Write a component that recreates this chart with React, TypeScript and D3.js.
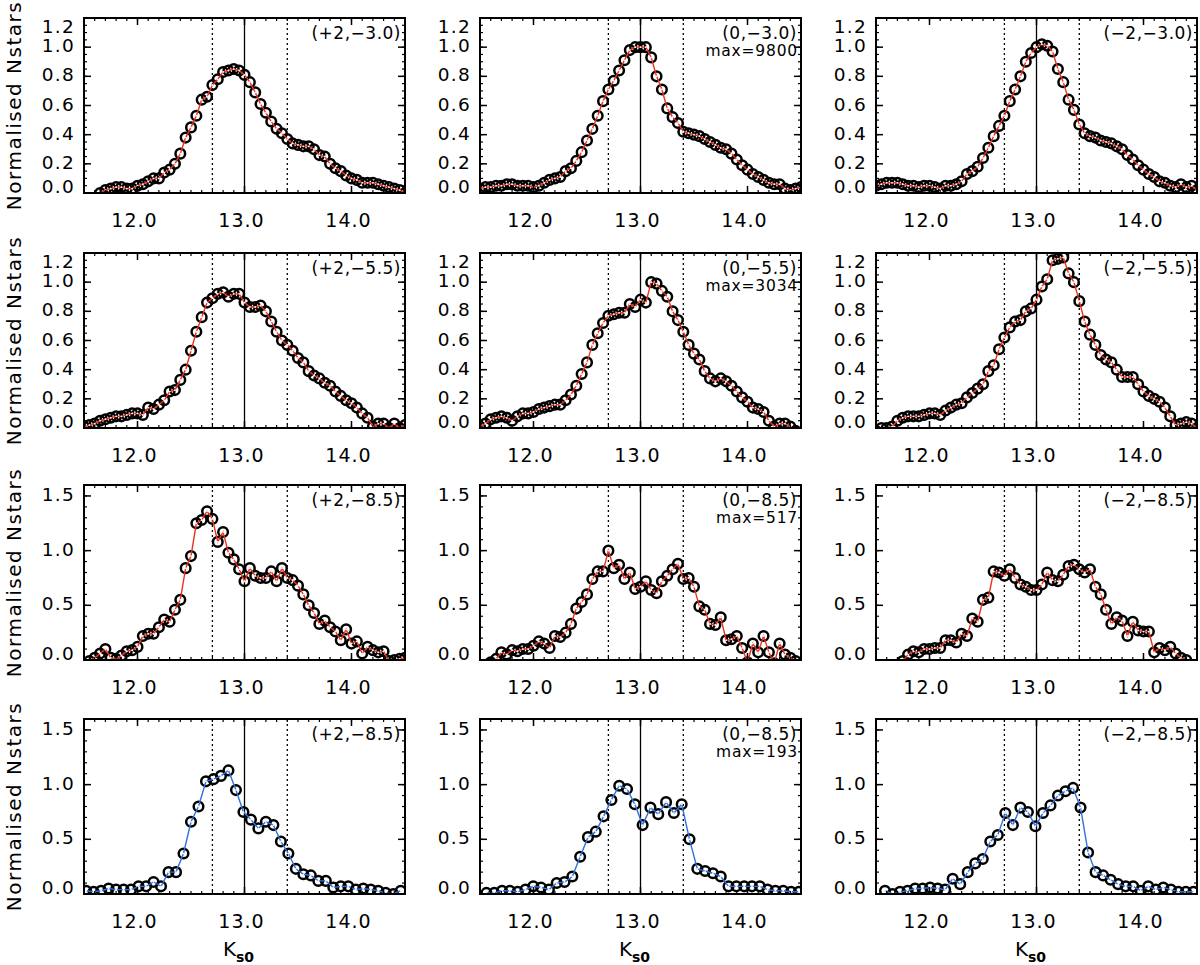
import React from "react";
import * as d3 from "d3";

// ---- data: normalised star counts per Ks0 bin ----
const fieldLabels = [
  "(+2,−3.0)", "(0,−3.0)", "(−2,−3.0)",
  "(+2,−5.5)", "(0,−5.5)", "(−2,−5.5)",
  "(+2,−8.5)", "(0,−8.5)", "(−2,−8.5)",
  "(+2,−8.5)", "(0,−8.5)", "(−2,−8.5)",
];
const maxLabels = ["", "max=9800", "", "", "max=3034", "", "", "max=517", "", "", "max=193", ""];

// first bin centre and bin width of each panel
const binStart = [11.65, 11.5, 11.5, 11.5, 11.5, 11.5, 11.55, 11.6, 11.75, 11.52, 11.56, 11.584];
const binStep = [0.05, 0.05, 0.05, 0.05, 0.05, 0.05, 0.05, 0.05, 0.05, 0.07, 0.073, 0.0703];

const p2m30 = [
  0.00, 0.02, 0.03, 0.04, 0.04, 0.03, 0.03,
  0.05, 0.06, 0.08, 0.10, 0.10, 0.14, 0.16, 0.20, 0.27, 0.38,
  0.45, 0.53, 0.64, 0.66, 0.74, 0.78, 0.83, 0.84, 0.85, 0.84,
  0.81, 0.76, 0.69, 0.61, 0.55, 0.49, 0.44, 0.41, 0.37, 0.34,
  0.33, 0.32, 0.32, 0.30, 0.26, 0.25, 0.20, 0.17, 0.15, 0.12,
  0.10, 0.09, 0.07, 0.07, 0.07, 0.06, 0.05, 0.04, 0.03, 0.02,
  0.00,
];
const p0m30 = [
  0.03, 0.04, 0.04, 0.05, 0.05, 0.06, 0.06, 0.05, 0.05, 0.05,
  0.04, 0.05, 0.07, 0.09, 0.10, 0.11, 0.15, 0.17, 0.22, 0.28,
  0.36, 0.44, 0.53, 0.63, 0.71, 0.77, 0.84, 0.91, 0.98, 1.00,
  1.00, 1.00, 0.93, 0.80, 0.71, 0.58, 0.52, 0.48, 0.42, 0.41,
  0.40, 0.39, 0.37, 0.35, 0.33, 0.31, 0.30, 0.27, 0.23, 0.19,
  0.16, 0.13, 0.11, 0.09, 0.07, 0.06, 0.06, 0.03, 0.02, 0.03,
  0.04,
];
const pm2m30 = [
  0.05, 0.06, 0.07, 0.07, 0.07, 0.06, 0.05, 0.05, 0.04, 0.05,
  0.05, 0.04, 0.03, 0.05, 0.05, 0.06, 0.08, 0.13, 0.15, 0.18,
  0.24, 0.31, 0.39, 0.46, 0.53, 0.63, 0.71, 0.80, 0.90, 0.96,
  1.00, 1.02, 1.01, 0.97, 0.85, 0.76, 0.64, 0.57, 0.47, 0.41,
  0.39, 0.38, 0.36, 0.35, 0.34, 0.32, 0.30, 0.26, 0.23, 0.19,
  0.16, 0.13, 0.11, 0.08, 0.07, 0.05, 0.04, 0.06, 0.04, 0.05,
  0.02,
];
const p2m55 = [
  0.01, 0.02, 0.03, 0.05, 0.06, 0.07, 0.08, 0.08, 0.09, 0.10,
  0.10, 0.09, 0.14, 0.13, 0.16, 0.19, 0.25, 0.26, 0.33, 0.40,
  0.53, 0.66, 0.76, 0.86, 0.89, 0.92, 0.93, 0.90, 0.92, 0.92,
  0.86, 0.83, 0.83, 0.84, 0.80, 0.73, 0.66, 0.60, 0.57, 0.53,
  0.48, 0.45, 0.39, 0.36, 0.34, 0.31, 0.29, 0.25, 0.22, 0.19,
  0.17, 0.14, 0.10, 0.07, 0.01, 0.03, 0.03, 0.00, 0.03, 0.00,
  0.02,
];
const p0m55 = [
  0.01, 0.03, 0.06, 0.07, 0.08, 0.07, 0.05, 0.08, 0.10, 0.10,
  0.11, 0.13, 0.14, 0.15, 0.16, 0.16, 0.19, 0.23, 0.29, 0.37,
  0.45, 0.57, 0.65, 0.72, 0.77, 0.78, 0.79, 0.79, 0.85, 0.83,
  0.88, 0.86, 1.00, 0.99, 0.94, 0.90, 0.80, 0.74, 0.66, 0.57,
  0.51, 0.47, 0.39, 0.34, 0.32, 0.34, 0.32, 0.29, 0.25, 0.21,
  0.18, 0.14, 0.13, 0.11, 0.05, 0.01, 0.03, 0.03, 0.01, -0.02,
];
const pm2m55 = [
  -0.02, 0.00, 0.00, 0.01, 0.05, 0.07, 0.08, 0.08, 0.08, 0.09,
  0.10, 0.10, 0.09, 0.12, 0.14, 0.16, 0.17, 0.21, 0.24, 0.27,
  0.30, 0.39, 0.43, 0.54, 0.62, 0.69, 0.73, 0.74, 0.80, 0.82,
  0.88, 0.97, 1.02, 1.15, 1.16, 1.17, 1.06, 1.00, 0.87, 0.73,
  0.64, 0.57, 0.50, 0.47, 0.45, 0.40, 0.35, 0.35, 0.35, 0.30,
  0.25, 0.22, 0.20, 0.18, 0.14, 0.08, 0.02, 0.03, 0.04, 0.03,
  0.00,
];
const p2m85 = [
  -0.01, 0.02, 0.06, 0.10, 0.02, 0.01, 0.04, 0.08, 0.09,
  0.12, 0.22, 0.24, 0.24, 0.30, 0.37, 0.35, 0.46, 0.55, 0.84,
  0.95, 1.25, 1.28, 1.36, 1.29, 1.08, 1.17, 0.98, 0.92, 0.83,
  0.72, 0.84, 0.77, 0.75, 0.75, 0.81, 0.72, 0.84, 0.75, 0.73,
  0.68, 0.60, 0.50, 0.43, 0.33, 0.36, 0.30, 0.26, 0.18, 0.28,
  0.15, 0.17, 0.06, 0.12, 0.09, 0.07, 0.08, -0.01, 0.00, 0.01,
  0.02,
];
const p0m85 = [
  -0.02, 0.01, 0.07, 0.05, 0.09, 0.08, 0.10, 0.10,
  0.13, 0.17, 0.15, 0.11, 0.22, 0.21, 0.25, 0.33, 0.47, 0.53,
  0.60, 0.74, 0.81, 0.81, 1.00, 0.84, 0.87, 0.74, 0.80, 0.65,
  0.67, 0.72, 0.64, 0.61, 0.72, 0.77, 0.83, 0.88, 0.74, 0.75,
  0.67, 0.49, 0.46, 0.33, 0.32, 0.39, 0.18, 0.19, 0.22, 0.11,
  -0.02, 0.15, 0.07, 0.22, 0.07, -0.03, 0.15, 0.05, 0.02, -0.01,
];
const pm2m85 = [
  -0.01, 0.05, 0.08, 0.07, 0.10,
  0.10, 0.11, 0.11, 0.18, 0.18, 0.16, 0.24, 0.22, 0.38, 0.35,
  0.55, 0.57, 0.81, 0.80, 0.77, 0.83, 0.75, 0.69, 0.67, 0.64,
  0.64, 0.69, 0.80, 0.73, 0.72, 0.78, 0.86, 0.87, 0.83, 0.80,
  0.83, 0.67, 0.60, 0.46, 0.33, 0.39, 0.36, 0.22, 0.35, 0.27,
  0.26, 0.26, 0.07, 0.11, 0.09, 0.12, 0.06, 0.02, 0.00,
];
// bottom row (blue): coarser bins
const q2m85 = [
  0.03, 0.02, 0.03, 0.05, 0.04, 0.04, 0.04, 0.07, 0.07, 0.11,
  0.07, 0.20, 0.20, 0.37, 0.66, 0.80, 1.03, 1.05, 1.08, 1.13,
  0.95, 0.75, 0.68, 0.60, 0.66, 0.63, 0.48, 0.37, 0.23, 0.18,
  0.17, 0.12, 0.12, 0.06, 0.07, 0.07, 0.04, 0.05, 0.04, 0.03,
  0.01, 0.00, 0.03,
];
const q0m85 = [
  0.01, 0.01, 0.03, 0.03, 0.02, 0.04, 0.07, 0.06, 0.04, 0.10,
  0.11, 0.16, 0.34, 0.52, 0.57, 0.71, 0.86, 0.99, 0.96, 0.82,
  0.63, 0.79, 0.73, 0.84, 0.74, 0.82, 0.50, 0.23, 0.21, 0.19,
  0.16, 0.07, 0.07, 0.07, 0.07, 0.07, 0.04, 0.03, 0.03, 0.02,
  0.02,
];
const qm2m85 = [
  0.03, 0.00, 0.02, 0.03, 0.05, 0.05, 0.06, 0.05, 0.04, 0.14,
  0.09, 0.20, 0.28, 0.32, 0.48, 0.54, 0.74, 0.63, 0.79, 0.75,
  0.62, 0.74, 0.81, 0.90, 0.94, 0.97, 0.79, 0.38, 0.20, 0.17,
  0.13, 0.09, 0.07, 0.07, 0.03, 0.07, 0.04, 0.06, 0.04, 0.02,
  0.02, 0.02,
];
const panelValues = [p2m30, p0m30, pm2m30, p2m55, p0m55, pm2m55, p2m85, p0m85, pm2m85, q2m85, q0m85, qm2m85];

const xTicks = [12, 13, 14];
const yTicksSmall = [0, 0.2, 0.4, 0.6, 0.8, 1.0, 1.2];
const yTicksLarge = [0, 0.5, 1.0, 1.5];
const refLines = [12.7, 13.0, 13.4];

// ---- layout ----
const W = 1200;
const H = 965;
const colX = [84, 480, 876];
const rowY = [18, 253, 485, 719];
const PW = 321;
const PH = 175;
const FONT = "DejaVu Sans, sans-serif";
const RED = "#e8321e";
const BLUE = "#2f72d8";

const fmt = d3.format(".1f");

const Panel: React.FC<{ idx: number }> = ({ idx }) => {
  const row = Math.floor(idx / 3);
  const col = idx % 3;
  const left = colX[col];
  const top = rowY[row];
  const big = row >= 2;

  const x = d3.scaleLinear().domain([11.5, 14.5]).range([0, PW]);
  const y = d3.scaleLinear().domain([0, big ? 1.6 : 1.2]).range([PH, 0]);

  const pts = panelValues[idx].map((v, i) => ({ m: binStart[idx] + i * binStep[idx], v }));
  const line = d3
    .line<{ m: number; v: number }>()
    .x((d) => x(d.m))
    .y((d) => y(d.v));

  const yTicks = big ? yTicksLarge : yTicksSmall;
  const yMinor = d3.range(0, big ? 1.6001 : 1.2001, big ? 0.1 : 0.05);
  const xMinor = d3.range(11.5, 14.5001, 0.1);
  const lineColor = row === 3 ? BLUE : RED;
  const clipId = `clip${idx}`;

  return (
    <g transform={`translate(${left},${top})`}>
      <clipPath id={clipId}>
        <rect x={0} y={0} width={PW} height={PH} />
      </clipPath>
      <g clipPath={`url(#${clipId})`}>
        {refLines.map((m) => (
          <line
            key={m}
            x1={x(m)}
            x2={x(m)}
            y1={0}
            y2={PH}
            stroke="#000"
            strokeWidth={1.3}
            strokeDasharray={m === 13.0 ? undefined : "2,3"}
          />
        ))}
        {pts.map((d, i) => (
          <circle key={i} cx={x(d.m)} cy={y(d.v)} r={4.8} fill="none" stroke="#000" strokeWidth={2.5} />
        ))}
        <path d={line(pts) ?? ""} fill="none" stroke={lineColor} strokeWidth={1.4} />
        {pts.map((d, i) => (
          <circle key={`w${i}`} cx={x(d.m)} cy={y(d.v)} r={0.9} fill="#fff" />
        ))}
      </g>

      {/* minor and major ticks, inward on all sides */}
      {xMinor.map((m, i) => (
        <g key={`xm${i}`}>
          <line x1={x(m)} x2={x(m)} y1={PH} y2={PH - 3} stroke="#000" strokeWidth={1.2} />
          <line x1={x(m)} x2={x(m)} y1={0} y2={3} stroke="#000" strokeWidth={1.2} />
        </g>
      ))}
      {xTicks.map((m) => (
        <g key={`xt${m}`}>
          <line x1={x(m)} x2={x(m)} y1={PH} y2={PH - 7} stroke="#000" strokeWidth={1.5} />
          <line x1={x(m)} x2={x(m)} y1={0} y2={7} stroke="#000" strokeWidth={1.5} />
          <text x={x(m) - 3} y={PH + 34} textAnchor="middle" fontFamily={FONT} fontSize={19} letterSpacing={1}>
            {fmt(m)}
          </text>
        </g>
      ))}
      {yMinor.map((v, i) => (
        <g key={`ym${i}`}>
          <line x1={0} x2={3} y1={y(v)} y2={y(v)} stroke="#000" strokeWidth={1.2} />
          <line x1={PW} x2={PW - 3} y1={y(v)} y2={y(v)} stroke="#000" strokeWidth={1.2} />
        </g>
      ))}
      {yTicks.map((v) => (
        <g key={`yt${v}`}>
          <line x1={0} x2={7} y1={y(v)} y2={y(v)} stroke="#000" strokeWidth={1.5} />
          <line x1={PW} x2={PW - 7} y1={y(v)} y2={y(v)} stroke="#000" strokeWidth={1.5} />
          <text
            x={-9}
            y={Math.max(10, Math.min(PH - 5, y(v)))}
            textAnchor="end"
            dominantBaseline="middle"
            fontFamily={FONT}
            fontSize={18.5}
            letterSpacing={1.3}
          >
            {fmt(v)}
          </text>
        </g>
      ))}
      <rect x={0} y={0} width={PW} height={PH} fill="none" stroke="#000" strokeWidth={2} />

      <text x={PW - 4} y={21} textAnchor="end" fontFamily={FONT} fontSize={17} letterSpacing={0.5}>
        {fieldLabels[idx]}
      </text>
      {maxLabels[idx] && (
        <text x={PW - 3} y={38} textAnchor="end" fontFamily={FONT} fontSize={15.5} letterSpacing={0.8}>
          {maxLabels[idx]}
        </text>
      )}

      {col === 0 && (
        <text
          transform={`translate(${15 - left},${PH / 2}) rotate(-90)`}
          textAnchor="middle"
          dominantBaseline="middle"
          fontFamily={FONT}
          fontSize={20}
          letterSpacing={1.5}
        >
          Normalised  Nstars
        </text>
      )}
      {row === 3 && (
        <text x={PW / 2 - 6} y={PH + 62} textAnchor="middle" fontFamily={FONT} fontSize={20}>
          K
          <tspan fontSize={14} fontWeight="bold" dy={6}>
            s0
          </tspan>
        </text>
      )}
    </g>
  );
};

const App: React.FC = () => (
  <svg
    width={W}
    height={H}
    style={{ position: "absolute", left: 0, top: 0, background: "#fff" }}
  >
    <rect width={W} height={H} fill="#fff" />
    {panelValues.map((_, i) => (
      <Panel key={i} idx={i} />
    ))}
  </svg>
);

export default App;
